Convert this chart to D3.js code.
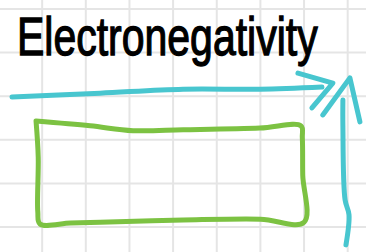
<!DOCTYPE html>
<html>
<head>
<meta charset="utf-8">
<script src="https://cdn.jsdelivr.net/npm/d3@7"></script>
<style>
  body { margin: 0; background: #fff; }
  svg { display: block; }
</style>
</head>
<body>
<div id="chart"></div>
<script>
// title of the sketch
const title = 'Electronegativity';

// grid paper lines, in grid units
const gridCols = [0, 1, 2, 3, 4, 5, 6, 7, 8, 9];
const gridRows = [-1, 0, 1, 2, 3, 4, 5, 6];

// hand drawn strokes, points in grid units [u, v]
const xAxisShaft = [[0.31, 2.02], [2.33, 1.93], [4.23, 1.84], [5.99, 1.84], [7.41, 1.79]];
const xAxisHead = [[6.86, 1.47], [7.66, 1.70], [7.18, 2.27]];
const yAxisShaft = [[7.89, 2.09], [7.89, 2.68], [7.94, 4.38], [8.03, 4.72], [7.96, 5.41]];
const yAxisHead = [[7.43, 2.43], [8.05, 1.58], [8.28, 2.59]];
const box = [[0.86, 2.57], [2.10, 2.68], [3.08, 2.79], [4.23, 2.77], [5.99, 2.73], [6.93, 2.68],
             [6.96, 2.95], [6.97, 3.81], [7.00, 4.89], [6.00, 4.82], [4.23, 4.84], [2.33, 4.89],
             [1.65, 4.91], [0.95, 4.93], [0.90, 4.65], [0.91, 3.40], [0.86, 2.57]];

const width = 366, height = 252;

const svg = d3.select('#chart').append('svg')
    .attr('width', width)
    .attr('height', height);

// one grid cell is ~43.6px
const xScale = d3.scaleLinear().domain([0, 8]).range([-1.5, 347.7]);
const yScale = d3.scaleLinear().domain([0, 5]).range([9, 227]);

// grid
svg.append('g').selectAll('line')
    .data(gridCols)
  .join('line')
    .attr('x1', d => xScale(d)).attr('x2', d => xScale(d))
    .attr('y1', 0).attr('y2', height)
    .attr('stroke', '#e5e5e5').attr('stroke-width', 2);

svg.append('g').selectAll('line')
    .data(gridRows)
  .join('line')
    .attr('y1', d => yScale(d)).attr('y2', d => yScale(d))
    .attr('x1', 0).attr('x2', width)
    .attr('stroke', '#e5e5e5').attr('stroke-width', 2);

const smooth = d3.line()
    .x(d => xScale(d[0]))
    .y(d => yScale(d[1]))
    .curve(d3.curveCatmullRom.alpha(0.5));

const straight = d3.line()
    .x(d => xScale(d[0]))
    .y(d => yScale(d[1]));

function stroke(data, gen, color, w) {
    svg.append('path')
        .attr('d', gen(data))
        .attr('fill', 'none')
        .attr('stroke', color)
        .attr('stroke-width', w)
        .attr('stroke-linecap', 'round')
        .attr('stroke-linejoin', 'round');
}

// green box
stroke(box, smooth, '#7cc242', 5);

// title, tall and narrow like the handwriting
svg.append('text')
    .attr('transform', 'translate(17,55) scale(1,1.29)')
    .style('font-family', '"Liberation Sans", Arial, sans-serif')
    .style('font-size', '41px')
    .attr('fill', '#000')
    .attr('stroke', '#000')
    .attr('stroke-width', 1)
    .text(title);

// axes arrows
stroke(xAxisShaft, smooth, '#48c6cf', 5);
stroke(xAxisHead, straight, '#48c6cf', 5);
stroke(yAxisShaft, smooth, '#48c6cf', 5);
stroke(yAxisHead, straight, '#48c6cf', 5);
</script>
</body>
</html>
